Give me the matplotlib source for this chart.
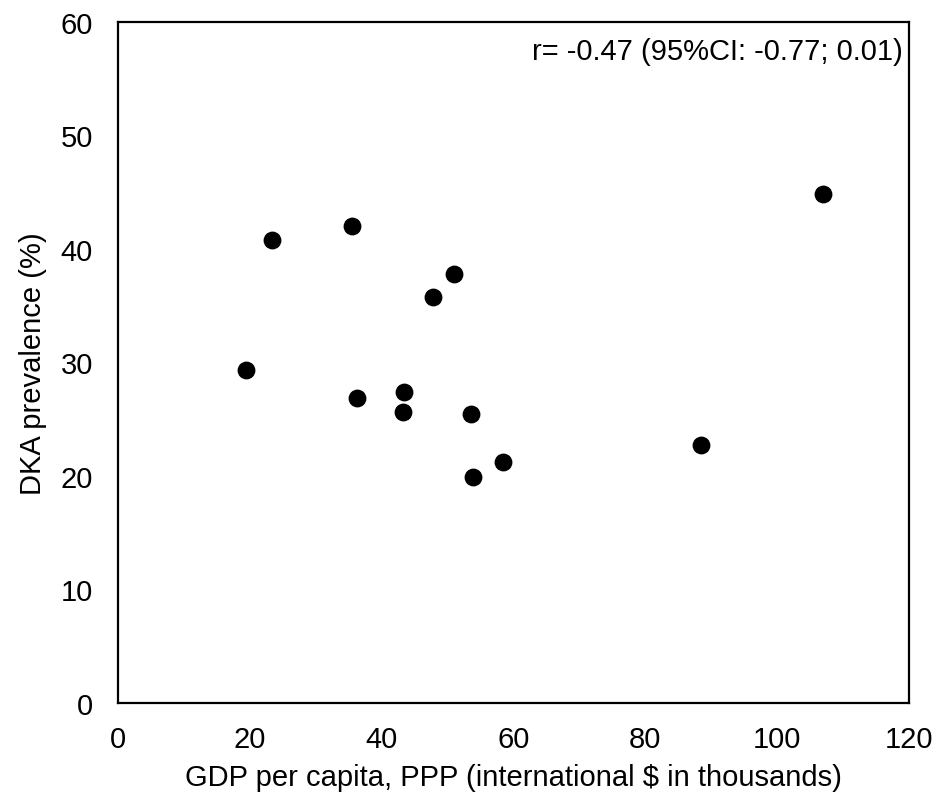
import matplotlib
matplotlib.use('Agg')
import matplotlib.pyplot as plt

# GDP per capita (thousands, PPP) vs DKA prevalence (%)
gdp = [19.4, 23.4, 35.5, 36.2, 43.4, 43.3, 47.8, 51.0, 53.6, 53.9, 58.4, 88.5, 106.9]
dka = [29.3, 40.8, 42.0, 26.9, 27.4, 25.6, 35.8, 37.8, 25.5, 19.9, 21.2, 22.7, 44.8]

plt.rcParams['font.family'] = ['Liberation Sans', 'DejaVu Sans']

fig = plt.figure(figsize=(9.38, 8.03), dpi=100)
ax = fig.add_axes([0.1258, 0.1233, 0.8432, 0.8481])

ax.scatter(gdp, dka, s=140, color='black', zorder=3)

ax.set_xlim(0, 120)
ax.set_ylim(0, 60)
ax.set_xticks(range(0, 121, 20))
ax.set_yticks(range(0, 61, 10))
ax.tick_params(length=0, labelsize=21)
ax.tick_params(axis='x', pad=16)
ax.tick_params(axis='y', pad=18)
for s in ax.spines.values():
    s.set_linewidth(1.6)

ax.set_xlabel('GDP per capita, PPP (international $ in thousands)', fontsize=21, labelpad=7)
ax.set_ylabel('DKA prevalence (%)', fontsize=21, labelpad=10)
ax.text(0.992, 0.978, 'r= -0.47 (95%CI: -0.77; 0.01)', transform=ax.transAxes,
        ha='right', va='top', fontsize=21)

fig.savefig('out.png', dpi=100)
